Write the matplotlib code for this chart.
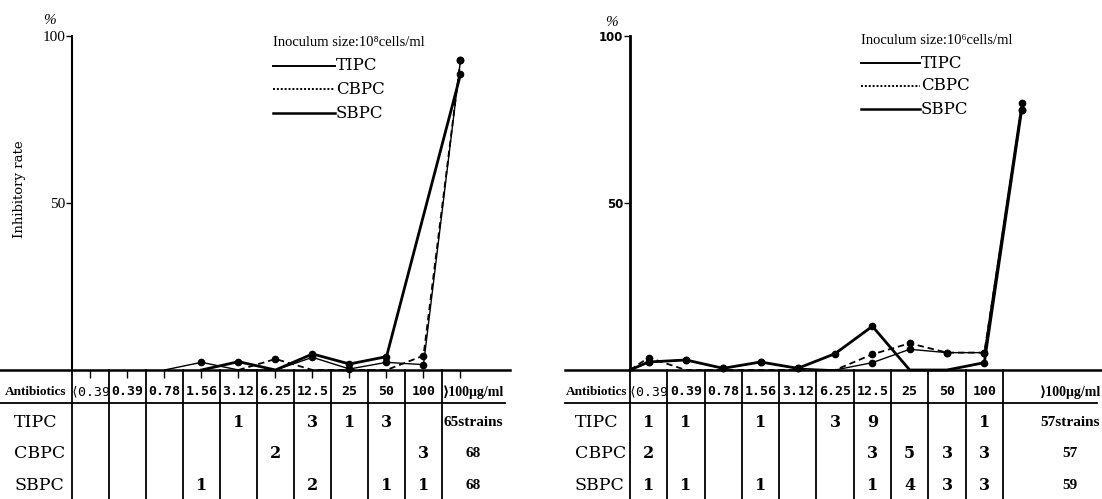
import numpy as np
import matplotlib
matplotlib.use("Agg")
import matplotlib.pyplot as plt
from matplotlib.transforms import Affine2D, blended_transform_factory
from matplotlib.lines import Line2D

nan = np.nan

# ---------------- data ----------------
categories = ["\u27e80.39", "0.39", "0.78", "1.56", "3.12", "6.25", "12.5", "25", "50", "100",
              "\u27e9100\u03bcg/ml"]
series_names = ["TIPC", "CBPC", "SBPC"]

# Inhibitory rate (%), inoculum 10^8 cells/ml (left panel)
left_TIPC = [nan, nan, nan, 0.0, 2.5, 0.0, 4.8, 1.8, 4.0, nan, 88.5]
left_CBPC = [nan, nan, nan, nan, 0.0, 3.3, 0.0, 0.0, 0.0, 4.3, 92.8]
left_SBPC = [nan, nan, 0.0, 2.3, 0.0, 0.0, 3.8, 0.3, 2.3, 1.6, 92.8]

# Inhibitory rate (%), inoculum 10^6 cells/ml (right panel)
right_TIPC = [2.4, 3.0, 0.5, 2.4, 0.5, 4.9, 13.1, 0.0, 0.0, 2.2, 77.8]
right_CBPC = [3.7, 0.0, nan, nan, nan, 0.0, 4.7, 8.0, 5.2, 5.2, 77.8]
right_SBPC = [2.4, 3.0, 0.5, 2.4, 0.5, 0.0, 2.2, 6.2, 5.2, 5.2, 80.0]

# Number of strains per MIC (table under the charts)
left_counts_TIPC = [None, None, None, None, 1, None, 3, 1, 3, None]
left_counts_CBPC = [None, None, None, None, None, 2, None, None, None, 3]
left_counts_SBPC = [None, None, None, 1, None, None, 2, None, 1, 1]
left_totals = ["65strains", "68", "68"]

right_counts_TIPC = [1, 1, None, 1, None, 3, 9, None, None, 1]
right_counts_CBPC = [2, None, None, None, None, None, 3, 5, 3, 3]
right_counts_SBPC = [1, 1, None, 1, None, None, 1, 4, 3, 3]
right_totals = ["57strains", "57", "59"]

left_title = "Inoculum size:10\u2078cells/ml"
right_title = "Inoculum size:10\u2076cells/ml"
ylabel = "Inhibitory rate"
row_header = "Antibiotics"

# ---------------- figure ----------------
W, H = 1102, 499
fig = plt.figure(figsize=(W / 100, H / 100), dpi=100)
T = Affine2D().scale(1 / W, -1 / H).translate(0, 1) + fig.transFigure

SERIF = ["DejaVu Serif"]
LSERIF = ["Liberation Serif", "DejaVu Serif"]
MONO = ["DejaVu Sans Mono", "DejaVu Sans"]

styles = {
    "TIPC": dict(color="black", lw=2.0, ls="-"),
    "CBPC": dict(color="black", lw=1.3, ls=(0, (3.5, 2.2))),
    "SBPC": dict(color="black", lw=1.0, ls="-"),
}
legend_styles = {
    "TIPC": dict(color="black", lw=1.4, ls="-"),
    "CBPC": dict(color="black", lw=1.4, ls=(0, (1, 1))),
    "SBPC": dict(color="black", lw=1.8, ls="-"),
}

Y0, Y100 = 370, 36
ROW_Y = [423, 454, 486]
HEAD_Y = 392


def panel(px_left, px_right, c0, step, rates, counts, totals, total_x,
          title, leg_x0, leg_x1, leg_title_y, leg_ys, start_at_axis,
          rowlab_x, head_x, pct_xy, ytick_font, ytick_weight, ytick_size, spine_lw,
          with_ticks, with_ylabel):
    ax = fig.add_axes([px_left / W, 1 - Y0 / H, (px_right - px_left) / W, (Y0 - Y100) / H])
    ax.set_xlim((px_left - c0) / step, (px_right - c0) / step)
    ax.set_ylim(0, 100)
    ax.patch.set_alpha(0)
    for s in ("top", "right"):
        ax.spines[s].set_visible(False)
    ax.spines["left"].set_position(("data", -0.5))
    ax.spines["left"].set_linewidth(spine_lw)
    ax.spines["bottom"].set_linewidth(1.8)
    ax.set_yticks([50, 100])
    ax.set_yticklabels(["50", "100"])
    ax.tick_params(axis="y", direction="out", length=4, width=1, pad=1, labelsize=ytick_size)
    for lbl in ax.get_yticklabels():
        lbl.set_fontfamily(ytick_font)
        lbl.set_fontweight(ytick_weight)
    if with_ticks:
        ax.set_xticks(range(len(categories)))
        ax.tick_params(axis="x", direction="out", length=6, width=1, labelbottom=False)
    else:
        ax.set_xticks([])

    x = np.arange(len(categories), dtype=float)
    for name, vals in zip(series_names, rates):
        v = np.array(vals, dtype=float)
        m = ~np.isnan(v)
        xs, ys = x[m], v[m]
        if start_at_axis:
            xs = np.r_[-0.5, xs]
            ys = np.r_[0.0, ys]
        ax.plot(xs, ys, clip_on=False, **styles[name])
        mk = m & (np.nan_to_num(v) > 0)
        ax.plot(x[mk], v[mk], "o", color="black", ms=4.5, clip_on=False)

    bt = blended_transform_factory(ax.transData, T)
    # table grid
    for k in range(len(categories)):
        ax.plot([-0.5 + k, -0.5 + k], [Y0, H + 2], transform=bt, color="black", lw=1.3,
                clip_on=False)
    ax.plot([px_left, px_right - 5], [403, 403], transform=T, color="black", lw=1.3,
            clip_on=False)
    # header
    ax.text(head_x, HEAD_Y, row_header, transform=T, ha="center", va="center",
            fontfamily=LSERIF, fontweight="bold", fontsize=9.5)
    for i, c in enumerate(categories[:-1]):
        ax.text(i, HEAD_Y, c, transform=bt, ha="center", va="center", fontfamily=MONO,
                fontweight="normal" if i == 0 else "bold", fontsize=9.5)
    ax.text(total_x, HEAD_Y, categories[-1], transform=bt, ha="center", va="center",
            fontfamily=LSERIF, fontweight="bold", fontsize=10)
    # rows
    for r, name in enumerate(series_names):
        y = ROW_Y[r]
        ax.text(rowlab_x, y, name, transform=T, ha="left", va="center", fontfamily=SERIF,
                fontsize=12.5)
        for i, cnt in enumerate(counts[r]):
            if cnt is not None:
                ax.text(i, y, str(cnt), transform=bt, ha="center", va="center",
                        fontfamily=SERIF, fontweight="bold", fontsize=11.5)
        ax.text(total_x, y, totals[r], transform=bt, ha="center", va="center",
                fontfamily=LSERIF, fontweight="bold", fontsize=11)

    # legend (drawn by hand, as in the original figure)
    ax.text(leg_x0, leg_title_y, title, transform=T, ha="left", va="center",
            fontfamily=LSERIF, fontsize=10.5)
    for name, y in zip(series_names, leg_ys):
        ax.add_line(Line2D([leg_x0, leg_x1], [y, y], transform=T, clip_on=False,
                           **legend_styles[name]))
        ax.text(leg_x1 + 1, y, name, transform=T, ha="left", va="center",
                fontfamily=SERIF, fontsize=12)

    ax.text(pct_xy[0], pct_xy[1], "%", transform=T, ha="center", va="center",
            fontfamily=LSERIF, fontstyle="italic", fontsize=11)
    if with_ylabel:
        ax.set_ylabel(ylabel, fontfamily=SERIF, fontsize=9.5, va="center")
        ax.yaxis.set_label_coords(20 / (px_right - px_left), 0.54)
    return ax


panel(0, 510, 90.5, 37.0,
      [left_TIPC, left_CBPC, left_SBPC],
      [left_counts_TIPC, left_counts_CBPC, left_counts_SBPC], left_totals, 10.34,
      left_title, 273, 335, 43, [66, 89, 113], False,
      14, 36, (50, 20), LSERIF, "normal", 11, 1.5, True, True)

panel(565, 1102, 648.6, 37.3,
      [right_TIPC, right_CBPC, right_SBPC],
      [right_counts_TIPC, right_counts_CBPC, right_counts_SBPC], right_totals, 11.3,
      right_title, 861, 920, 40, [63, 86, 109], True,
      575, 597, (612, 22), ["DejaVu Sans"], "bold", 8.5, 2.0, False, False)

fig.savefig("out.png", dpi=100)
